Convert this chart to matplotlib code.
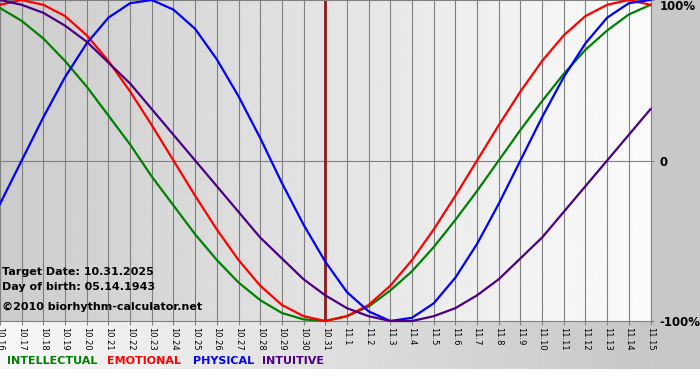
import numpy as np
import matplotlib.pyplot as plt
from matplotlib.patches import Rectangle

# =============================================================================
# DATA - biorhythm value per day (1.0 = 100%), 10.16 .. 11.15
# =============================================================================
dates = [f"10.{d}" for d in range(16, 32)] + [f"11.{d}" for d in range(1, 16)]
target_index = 15  # 10.31

intellectual = [0.95, 0.87, 0.76, 0.62, 0.46, 0.28, 0.10, -0.10, -0.28, -0.46,
                -0.62, -0.76, -0.87, -0.95, -0.99, -1.00, -0.97, -0.91, -0.81, -0.69,
                -0.54, -0.37, -0.19, 0.00, 0.19, 0.37, 0.54, 0.69, 0.81, 0.91, 0.97]
emotional = [0.97, 1.00, 0.97, 0.90, 0.78, 0.62, 0.43, 0.22, 0.00, -0.22,
             -0.43, -0.62, -0.78, -0.90, -0.97, -1.00, -0.97, -0.90, -0.78, -0.62,
             -0.43, -0.22, 0.00, 0.22, 0.43, 0.62, 0.78, 0.90, 0.97, 1.00, 0.97]
physical = [-0.27, 0.00, 0.27, 0.52, 0.73, 0.89, 0.98, 1.00, 0.94, 0.82,
            0.63, 0.40, 0.14, -0.14, -0.40, -0.63, -0.82, -0.94, -1.00, -0.98,
            -0.89, -0.73, -0.52, -0.27, 0.00, 0.27, 0.52, 0.73, 0.89, 0.98, 1.00]
intuitive = [1.00, 0.97, 0.92, 0.84, 0.74, 0.61, 0.48, 0.32, 0.16, 0.00,
             -0.16, -0.32, -0.48, -0.61, -0.74, -0.84, -0.92, -0.97, -1.00, -1.00,
             -0.97, -0.92, -0.84, -0.74, -0.61, -0.48, -0.32, -0.16, 0.00, 0.16, 0.32]

series = [
    ("INTELLECTUAL", intellectual, "#008000"),
    ("EMOTIONAL", emotional, "#ff0000"),
    ("PHYSICAL", physical, "#0000ff"),
    ("INTUITIVE", intuitive, "#4b0082"),
]

info_lines = ["Target Date: 10.31.2025", "Day of birth: 05.14.1943",
              "\u00a92010 biorhythm-calculator.net"]

# =============================================================================
# PLOTTING
# =============================================================================
plt.rcParams['font.family'] = 'DejaVu Sans'
W, H = 700, 380
fig = plt.figure(figsize=(W / 100, H / 100), dpi=100, facecolor='white')

# page background: light-to-gray gradient, gray right margin, white strip at bottom
bg = fig.add_axes([0, 0, 1, 1])
bg.set_xlim(0, W)
bg.set_ylim(H, 0)
bg.axis('off')
bg.imshow(np.linspace(0.97, 0.78, 256)[None, :], extent=[0, 651, 369, 0],
          cmap='gray', vmin=0, vmax=1, aspect='auto')
bg.add_patch(Rectangle((651, 0), W - 651, 369, color='#c8c8c8', lw=0))
bg.set_xlim(0, W)
bg.set_ylim(H, 0)

# plot area
ax = fig.add_axes([0, 59 / H, 650.5 / W, 321 / H])
ax.set_zorder(2)
x = np.arange(len(dates))
ax.imshow(np.linspace(0.80, 0.985, 256)[None, :], extent=[0, len(dates) - 1, -1, 1],
          cmap='gray', vmin=0, vmax=1, aspect='auto', zorder=0)

for xi in x:
    ax.axvline(xi, color='#808080', lw=0.8, zorder=1)
ax.axhline(0, color='#808080', lw=0.8, zorder=1)
ax.axvline(target_index, color='#8b1a1a', lw=2, zorder=2)

for name, vals, color in series:
    ax.plot(x, vals, color=color, lw=1.6, zorder=3, clip_on=False)

ax.set_xlim(0, len(dates) - 1)
ax.set_ylim(-1, 1)

for s in ax.spines.values():
    s.set_color('#808080')
    s.set_linewidth(0.8)

ax.set_xticks(x)
ax.set_xticklabels(dates, rotation=-90, fontsize=6)
ax.tick_params(axis='x', length=3, width=0.8, color='#808080', pad=1)

ax.yaxis.tick_right()
ax.set_yticks([-1, 0, 1])
ylabels = ax.set_yticklabels(['-100%', '0', '100%'], fontsize=8.5, fontweight='bold')
ylabels[2].set_va('top')
ax.tick_params(axis='y', length=2.5, width=0.8, color='#808080', pad=4)

# info text inside the plot
for label, ypx in zip(info_lines, [272, 287, 307]):
    fig.text(2 / W, 1 - ypx / H, label, fontsize=8, fontweight='bold',
             va='center', ha='left', color='black', zorder=5)

# legend row
for (name, vals, color), xpx in zip(series, [7, 107, 193, 262]):
    fig.text(xpx / W, 1 - 361 / H, name, fontsize=8, fontweight='bold',
             va='center', ha='left', color=color)

plt.savefig('out.png', dpi=100)
